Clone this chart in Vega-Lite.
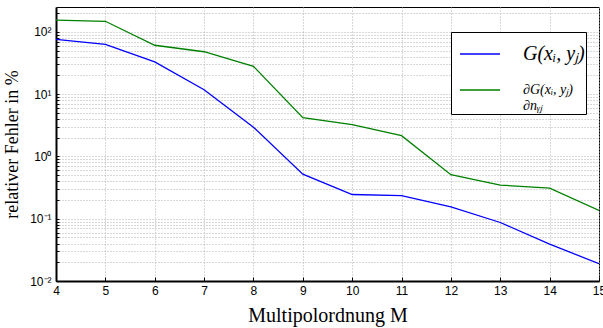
{
  "$schema": "https://vega.github.io/schema/vega-lite/v6.json",
  "width": 543,
  "height": 274,
  "autosize": {"type": "none"},
  "padding": {"left": 56, "top": 7, "right": 4, "bottom": 47},
  "background": "white",
  "config": {
    "view": {"stroke": "black", "strokeWidth": 1},
    "axis": {
      "gridColor": "#b0b0b0",
      "gridDash": [1, 2],
      "gridWidth": 1,
      "gridOpacity": 1,
      "domainColor": "black",
      "domainWidth": 2,
      "tickColor": "black",
      "labelColor": "black",
      "labelFont": "Liberation Sans",
      "labelFontSize": 12,
      "titleFont": "Liberation Serif",
      "titleFontWeight": "normal",
      "titleColor": "black"
    }
  },
  "data": {
    "values": [
      {"M": 4, "series": "G", "err": 76},
      {"M": 5, "series": "G", "err": 63},
      {"M": 6, "series": "G", "err": 33},
      {"M": 7, "series": "G", "err": 11.8},
      {"M": 8, "series": "G", "err": 2.95},
      {"M": 9, "series": "G", "err": 0.52},
      {"M": 10, "series": "G", "err": 0.245},
      {"M": 11, "series": "G", "err": 0.235},
      {"M": 12, "series": "G", "err": 0.155},
      {"M": 13, "series": "G", "err": 0.087},
      {"M": 14, "series": "G", "err": 0.039},
      {"M": 15, "series": "G", "err": 0.019},
      {"M": 4, "series": "dG", "err": 155},
      {"M": 5, "series": "dG", "err": 148},
      {"M": 6, "series": "dG", "err": 61},
      {"M": 7, "series": "dG", "err": 48},
      {"M": 8, "series": "dG", "err": 28},
      {"M": 9, "series": "dG", "err": 4.2},
      {"M": 10, "series": "dG", "err": 3.25},
      {"M": 11, "series": "dG", "err": 2.16},
      {"M": 12, "series": "dG", "err": 0.51},
      {"M": 13, "series": "dG", "err": 0.347},
      {"M": 14, "series": "dG", "err": 0.31},
      {"M": 15, "series": "dG", "err": 0.136}
    ]
  },
  "mark": {"type": "line", "strokeWidth": 1.3, "clip": true},
  "encoding": {
    "x": {
      "field": "M",
      "type": "quantitative",
      "scale": {"domain": [4, 15], "nice": false},
      "axis": {
        "title": "Multipolordnung M",
        "titleFont": "Liberation Serif",
        "titleFontSize": 20,
        "values": [4, 5, 6, 7, 8, 9, 10, 11, 12, 13, 14, 15],
        "tickSize": -4,
        "labelPadding": 8,
        "titlePadding": 9,
        "labelFlush": false
      }
    },
    "y": {
      "field": "err",
      "type": "quantitative",
      "scale": {"type": "log", "domain": [0.01, 251], "nice": false},
      "axis": {
        "title": "relativer Fehler in %",
        "titleFont": "Liberation Serif",
        "titleFontSize": 18,
        "values": [0.01, 0.02, 0.03, 0.04, 0.05, 0.06, 0.07, 0.08, 0.09, 0.1, 0.2, 0.3, 0.4, 0.5, 0.6, 0.7, 0.8, 0.9, 1, 2, 3, 4, 5, 6, 7, 8, 9, 10, 20, 30, 40, 50, 60, 70, 80, 90, 100, 200],
        "labelExpr": "datum.value == 100 ? '10²' : datum.value == 10 ? '10¹' : datum.value == 1 ? '10⁰' : datum.value == 0.1 ? '10⁻¹' : datum.value == 0.01 ? '10⁻²' : ''",
        "tickSize": -3,
        "labelPadding": 8,
        "titlePadding": 8,
        "labelFlush": false
      }
    },
    "color": {
      "field": "series",
      "type": "nominal",
      "scale": {"domain": ["G", "dG"], "range": ["#0000ff", "#008000"]},
      "legend": {
        "title": null,
        "orient": "none",
        "legendX": 395,
        "legendY": 25,
        "direction": "vertical",
        "labelExpr": "datum.value == 'G' ? 'G(xᵢ, yⱼ)' : ['∂G(xᵢ, yⱼ)  ', '∂nᵧⱼ']",
        "labelFont": "Liberation Serif",
        "labelFontStyle": "italic",
        "labelFontSize": 16,
        "labelColor": "black",
        "labelLimit": 200,
        "labelOffset": 22,
        "symbolType": "stroke",
        "symbolSize": 1600,
        "symbolOffset": 7,
        "symbolStrokeWidth": 1.3,
        "rowPadding": 5,
        "padding": 1,
        "strokeColor": "black",
        "fillColor": "white",
        "cornerRadius": 0,
        "encode": {
          "labels": {
            "update": {
              "fontSize": {"signal": "datum.value == 'G' ? 20 : 14"}
            }
          }
        }
      }
    }
  }
}
